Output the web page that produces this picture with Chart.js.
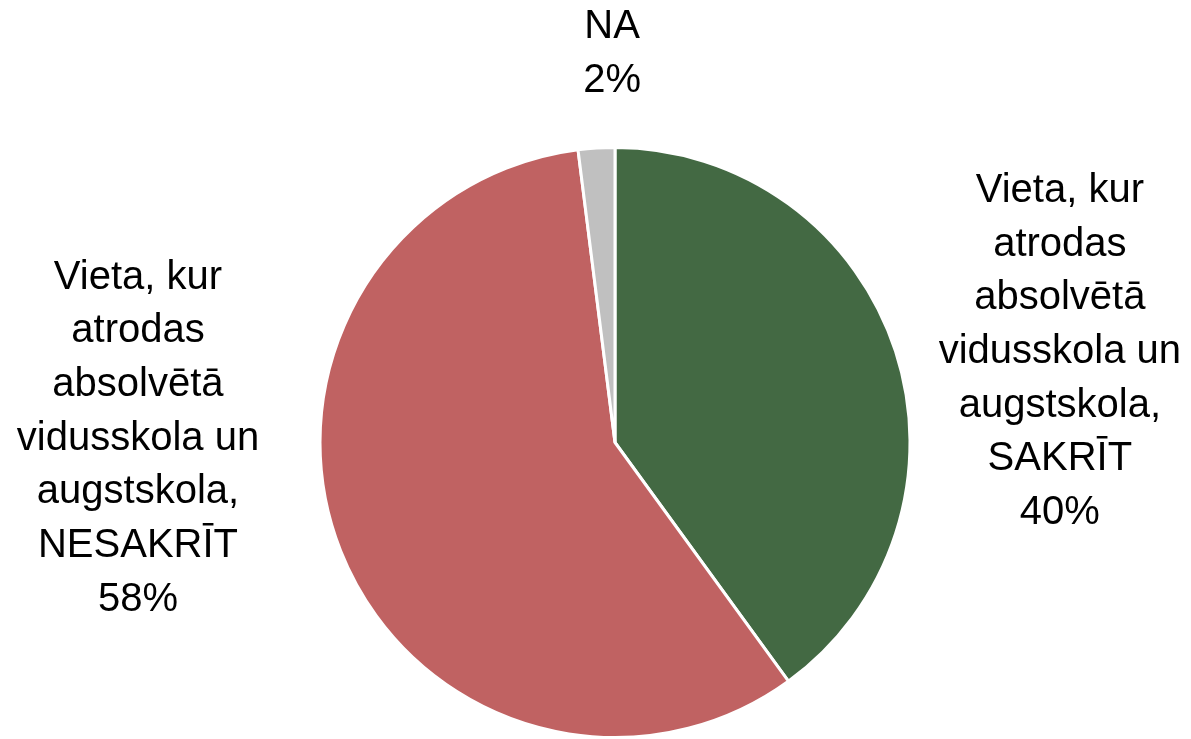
<!DOCTYPE html>
<html>
<head>
<meta charset="utf-8">
<script src="https://cdn.jsdelivr.net/npm/chart.js@4/dist/chart.umd.min.js"></script>
<style>
  body { margin: 0; background: #fff; }
  #wrap { width: 1191px; height: 739px; }
</style>
</head>
<body>
<div id="wrap"><canvas id="pie"></canvas></div>
<script>
const categories = [
  'Vieta, kur atrodas absolvētā vidusskola un augstskola, SAKRĪT',
  'Vieta, kur atrodas absolvētā vidusskola un augstskola, NESAKRĪT',
  'NA'
]
const labelLines = [
  ['Vieta, kur', 'atrodas', 'absolvētā', 'vidusskola un', 'augstskola,', 'SAKRĪT'],
  ['Vieta, kur', 'atrodas', 'absolvētā', 'vidusskola un', 'augstskola,', 'NESAKRĪT'],
  ['NA']
]
const shares = [40, 58, 2]
const colors = ['#436943', '#C06262', '#C0C0C0']

// where each label block sits, in units of the pie radius from the pie centre
const labelSpots = [
  { dx: 1.508, dy: -0.307 },
  { dx: -1.617, dy: -0.013 },
  { dx: -0.01, dy: -1.318 }
]

const labelPlugin = {
  id: 'sliceLabels',
  afterDraw(chart) {
    const ctx = chart.ctx
    const arcs = chart.getDatasetMeta(0).data
    const total = shares.reduce((a, b) => a + b, 0)
    ctx.save()
    ctx.font = '40px "Liberation Sans", Arial, sans-serif'
    ctx.fillStyle = '#000'
    ctx.textAlign = 'center'
    ctx.textBaseline = 'middle'
    const lh = 53.7
    arcs.forEach((arc, i) => {
      const r = arc.outerRadius
      const lines = labelLines[i].concat([Math.round(shares[i] / total * 100) + '%'])
      const cx = arc.x + labelSpots[i].dx * r
      const cy = arc.y + labelSpots[i].dy * r
      const top = cy - (lines.length - 1) * lh / 2
      lines.forEach((t, k) => ctx.fillText(t, cx, top + k * lh))
    })
    ctx.restore()
  }
}

new Chart(document.getElementById('pie'), {
  type: 'pie',
  data: {
    labels: categories,
    datasets: [{
      data: shares,
      backgroundColor: colors,
      borderColor: '#ffffff',
      borderWidth: 3
    }]
  },
  options: {
    responsive: true,
    maintainAspectRatio: false,
    animation: false,
    layout: { padding: { top: 146, bottom: 0, left: 39, right: 0 } },
    plugins: {
      legend: { display: false },
      tooltip: { enabled: false }
    }
  },
  plugins: [labelPlugin]
})
</script>
</body>
</html>
